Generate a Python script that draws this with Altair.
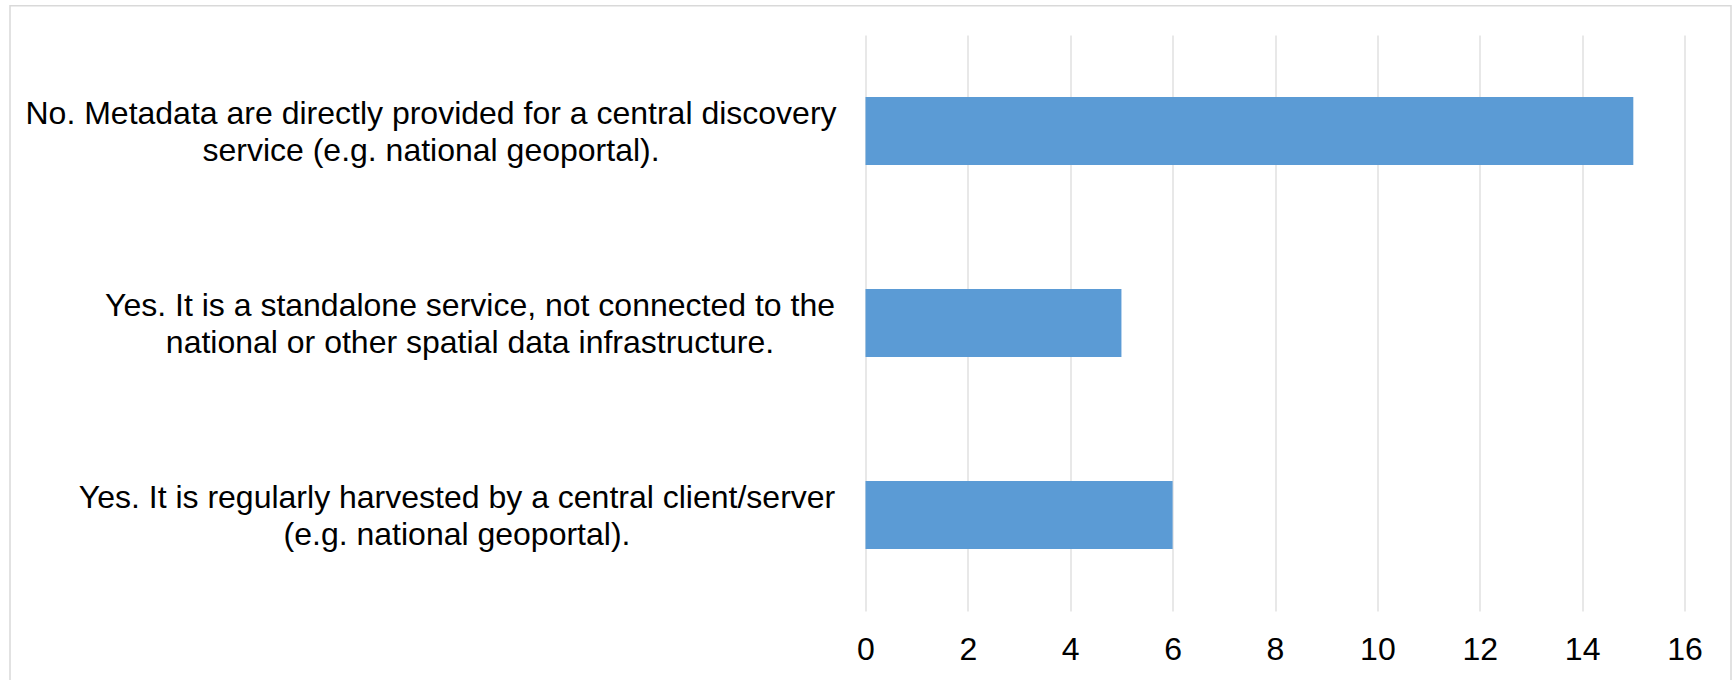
import altair as alt
import pandas as pd

categories = [
    "No. Metadata are directly provided for a central discovery|service (e.g. national geoportal).",
    "Yes. It is a standalone service, not connected to the|national or other spatial data infrastructure.",
    "Yes. It is regularly harvested by a central client/server|(e.g. national geoportal).",
]
counts = [15, 5, 6]
x_ticks = [0, 2, 4, 6, 8, 10, 12, 14, 16]

# label block paddings (style): keep each wrapped label centred in its block,
# with all blocks right-aligned ~30px from the axis
label_pad = [435, 396, 409]

df = pd.DataFrame({"category": categories, "count": counts})

FONT = "Liberation Sans"

pad_cond = {
    "condition": [
        {"test": f"datum.value === {repr(categories[0])}", "value": label_pad[0]},
        {"test": f"datum.value === {repr(categories[1])}", "value": label_pad[1]},
    ],
    "value": label_pad[2],
}

bars = alt.Chart(df).mark_bar(color="#5b9bd5").encode(
    y=alt.Y(
        "category:N",
        sort=categories,
        scale=alt.Scale(paddingInner=0.646, paddingOuter=0.323),
        axis=alt.Axis(
            title=None,
            domain=False,
            ticks=False,
            grid=False,
            labelExpr="split(datum.label, '|')",
            labelAlign="center",
            labelBaseline="middle",
            labelFont=FONT,
            labelFontSize=32,
            labelLineHeight=37,
            labelOffset=-17,
            labelColor="#000000",
            labelPadding=pad_cond,
            labelLimit=0,
        ),
    ),
    x=alt.X(
        "count:Q",
        scale=alt.Scale(domain=[0, 16], nice=False),
        axis=alt.Axis(
            title=None,
            values=x_ticks,
            domain=False,
            ticks=False,
            grid=True,
            gridColor="#d9d9d9",
            gridWidth=1.2,
            labelFont=FONT,
            labelFontSize=32,
            labelColor="#000000",
            labelPadding=23,
            labelFlush=False,
        ),
    ),
)

frame = alt.Chart(pd.DataFrame({"f": [0]})).mark_rect(
    fill=None, stroke="#d9d9d9", strokeWidth=1.5
).encode(
    x=alt.value(-855.5),
    x2=alt.value(865.5),
    y=alt.value(-29.3),
    y2=alt.value(680),
)

chart = alt.layer(frame, bars).properties(
    width=819,
    height=576,
    autosize=alt.AutoSizeParams(type="none"),
    padding={"left": 865.5, "top": 35, "right": 48.5, "bottom": 69},
    background="white",
).configure_view(stroke=None)

chart.save("out.html", embed_options={"renderer": "svg", "actions": False})
